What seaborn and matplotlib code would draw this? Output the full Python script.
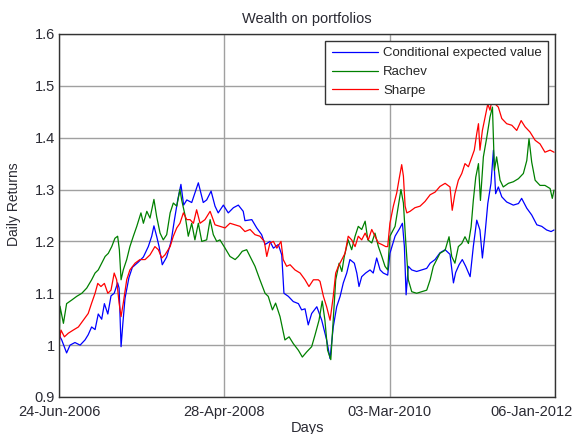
import pandas as pd
import matplotlib.pyplot as plt
import matplotlib.dates as mdates
import matplotlib.ticker as mticker
import matplotlib.transforms as mtransforms
import seaborn as sns

# --- data: days since 24-Jun-2006 and wealth values ---
start = pd.Timestamp("2006-06-24")

cev_days = [0, 11, 31, 45, 65, 86, 106, 119, 133, 147, 160, 174, 185, 199, 212, 225, 239, 245,
            253, 260, 269, 285, 299, 323, 344, 364, 378, 387, 398, 408, 421, 439, 457, 470, 484,
            497, 508, 521, 541, 568, 588, 602, 620, 636, 649, 670, 690, 711, 731, 751, 758, 786,
            806, 826, 840, 860, 874, 894, 908, 917, 935, 955, 976, 989, 1003, 1016, 1030, 1051,
            1071, 1091, 1105, 1118, 1132, 1146, 1159, 1173, 1186, 1204, 1214, 1223, 1234, 1250,
            1268, 1281, 1295, 1309, 1322, 1340, 1349, 1370, 1390, 1400, 1408, 1415, 1424, 1438,
            1458, 1479, 1499, 1513, 1533, 1553, 1574, 1594, 1608, 1617, 1631, 1644, 1658, 1676,
            1689, 1703, 1716, 1726, 1737, 1748, 1761, 1771, 1780, 1791, 1805, 1825, 1852, 1873,
            1886, 1907, 1927, 1948, 1968, 1988, 2006, 2018]
cev_vals = [1.02, 1.01, 0.985, 1.0, 1.005, 1.0, 1.01, 1.02, 1.035, 1.03, 1.06, 1.05, 1.08, 1.06,
            1.095, 1.10, 1.12, 1.11, 0.997, 1.04, 1.09, 1.13, 1.15, 1.16, 1.17, 1.19, 1.21, 1.23,
            1.21, 1.19, 1.155, 1.17, 1.20, 1.24, 1.28, 1.31, 1.27, 1.28, 1.275, 1.313, 1.275,
            1.28, 1.297, 1.268, 1.255, 1.27, 1.255, 1.265, 1.27, 1.258, 1.24, 1.242, 1.226,
            1.213, 1.194, 1.20, 1.187, 1.194, 1.174, 1.10, 1.094, 1.084, 1.08, 1.068, 1.07,
            1.039, 1.061, 1.074, 1.048, 1.01, 0.974, 1.035, 1.074, 1.094, 1.12, 1.139, 1.165,
            1.158, 1.139, 1.113, 1.132, 1.139, 1.145, 1.139, 1.168, 1.145, 1.139, 1.135, 1.177,
            1.21, 1.226, 1.235, 1.19, 1.097, 1.152, 1.145, 1.142, 1.145, 1.148, 1.158, 1.165,
            1.178, 1.184, 1.175, 1.12, 1.14, 1.155, 1.165, 1.152, 1.132, 1.19, 1.241, 1.222,
            1.168, 1.216, 1.273, 1.312, 1.376, 1.292, 1.305, 1.286, 1.276, 1.27, 1.273, 1.283,
            1.264, 1.251, 1.232, 1.229, 1.222, 1.219, 1.222]

rachev_days = [0, 4, 18, 31, 52, 72, 93, 113, 133, 147, 160, 174, 188, 201, 215, 228, 239, 246,
               253, 262, 276, 289, 303, 317, 334, 344, 358, 371, 387, 398, 412, 425, 439, 453,
               466, 480, 493, 500, 514, 527, 541, 554, 568, 582, 602, 616, 629, 643, 656, 677,
               697, 718, 731, 747, 765, 779, 799, 819, 840, 853, 870, 883, 901, 921, 938, 955,
               976, 992, 1010, 1030, 1044, 1060, 1073, 1084, 1095, 1108, 1118, 1128, 1142, 1153,
               1163, 1179, 1193, 1207, 1220, 1234, 1248, 1259, 1275, 1288, 1302, 1316, 1329,
               1340, 1349, 1370, 1383, 1394, 1404, 1413, 1424, 1438, 1458, 1479, 1499, 1513,
               1526, 1540, 1553, 1574, 1590, 1601, 1614, 1628, 1642, 1655, 1669, 1680, 1689,
               1699, 1710, 1718, 1730, 1744, 1757, 1767, 1775, 1784, 1798, 1811, 1832, 1852,
               1873, 1893, 1907, 1916, 1927, 1941, 1961, 1981, 2002, 2011, 2018]
rachev_vals = [0.99, 1.075, 1.042, 1.08, 1.087, 1.094, 1.10, 1.11, 1.126, 1.139, 1.145, 1.158,
               1.171, 1.177, 1.19, 1.206, 1.21, 1.184, 1.126, 1.145, 1.165, 1.19, 1.21, 1.229,
               1.255, 1.235, 1.258, 1.245, 1.281, 1.248, 1.216, 1.203, 1.213, 1.255, 1.274,
               1.268, 1.30, 1.28, 1.25, 1.21, 1.235, 1.203, 1.235, 1.20, 1.203, 1.242, 1.213,
               1.20, 1.203, 1.187, 1.171, 1.165, 1.171, 1.181, 1.184, 1.171, 1.152, 1.126, 1.10,
               1.094, 1.068, 1.081, 1.055, 1.01, 1.016, 1.003, 0.99, 0.977, 0.987, 0.997, 1.02,
               1.048, 1.085, 1.048, 0.99, 0.972, 1.048, 1.126, 1.158, 1.142, 1.171, 1.203, 1.184,
               1.21, 1.229, 1.223, 1.239, 1.203, 1.197, 1.216, 1.19, 1.171, 1.152, 1.145, 1.21,
               1.229, 1.268, 1.30, 1.274, 1.203, 1.126, 1.103, 1.10, 1.103, 1.106, 1.126, 1.152,
               1.165, 1.177, 1.183, 1.209, 1.171, 1.158, 1.19, 1.196, 1.209, 1.196, 1.228, 1.279,
               1.324, 1.35, 1.279, 1.363, 1.401, 1.44, 1.459, 1.337, 1.363, 1.318, 1.305, 1.312,
               1.315, 1.321, 1.331, 1.356, 1.398, 1.353, 1.318, 1.308, 1.308, 1.302, 1.283, 1.299]

sharpe_days = [0, 8, 22, 38, 58, 79, 99, 119, 133, 147, 158, 171, 185, 199, 212, 225, 235, 245,
               253, 262, 276, 289, 310, 330, 351, 371, 391, 405, 419, 432, 453, 466, 480, 493,
               507, 521, 534, 548, 561, 575, 595, 616, 636, 656, 677, 697, 718, 738, 758, 779,
               799, 819, 837, 847, 860, 874, 888, 905, 914, 928, 942, 962, 983, 1003, 1019, 1037,
               1057, 1064, 1078, 1091, 1105, 1118, 1128, 1139, 1153, 1166, 1179, 1193, 1207,
               1220, 1234, 1248, 1261, 1275, 1288, 1302, 1316, 1332, 1340, 1349, 1363, 1377,
               1386, 1397, 1404, 1411, 1418, 1431, 1451, 1472, 1492, 1513, 1533, 1553, 1574,
               1594, 1603, 1614, 1628, 1642, 1655, 1669, 1683, 1693, 1703, 1710, 1716, 1726,
               1737, 1748, 1757, 1767, 1778, 1791, 1805, 1825, 1846, 1866, 1884, 1900, 1920,
               1941, 1961, 1981, 2002, 2018]
sharpe_vals = [1.003, 1.029, 1.016, 1.023, 1.029, 1.035, 1.048, 1.061, 1.081, 1.10, 1.119, 1.113,
               1.119, 1.10, 1.106, 1.139, 1.126, 1.081, 1.055, 1.081, 1.126, 1.145, 1.158, 1.165,
               1.165, 1.174, 1.19, 1.184, 1.168, 1.174, 1.19, 1.21, 1.226, 1.235, 1.255, 1.242,
               1.242, 1.235, 1.261, 1.235, 1.242, 1.258, 1.232, 1.229, 1.226, 1.235, 1.232,
               1.229, 1.219, 1.223, 1.213, 1.21, 1.20, 1.171, 1.197, 1.20, 1.187, 1.20, 1.165,
               1.152, 1.155, 1.145, 1.139, 1.126, 1.113, 1.126, 1.126, 1.123, 1.094, 1.074,
               1.048, 1.094, 1.139, 1.152, 1.165, 1.177, 1.21, 1.203, 1.19, 1.21, 1.203, 1.216,
               1.203, 1.223, 1.21, 1.197, 1.194, 1.19, 1.19, 1.235, 1.268, 1.294, 1.319, 1.348,
               1.326, 1.268, 1.255, 1.258, 1.265, 1.268, 1.277, 1.29, 1.295, 1.306, 1.312, 1.305,
               1.26, 1.292, 1.318, 1.331, 1.35, 1.344, 1.363, 1.376, 1.408, 1.427, 1.376, 1.414,
               1.44, 1.465, 1.453, 1.478, 1.465, 1.459, 1.437, 1.427, 1.424, 1.414, 1.433, 1.421,
               1.411, 1.395, 1.388, 1.372, 1.376, 1.372]

series_names = ["Conditional expected value", "Rachev", "Sharpe"]
series_colors = ["#0000ff", "#008000", "#ff0000"]
tick_dates = ["2006-06-24", "2008-04-28", "2010-03-03", "2012-01-06"]

# build one long table for seaborn
frames = []
for name, d, v in zip(series_names,
                      [cev_days, rachev_days, sharpe_days],
                      [cev_vals, rachev_vals, sharpe_vals]):
    frames.append(pd.DataFrame({
        "date": start + pd.to_timedelta(d, unit="D"),
        "wealth": v,
        "portfolio": name,
    }))
df = pd.concat(frames, ignore_index=True)

sns.set_style("white")
plt.rcParams["font.family"] = ["Liberation Sans", "DejaVu Sans"]
txt_color = "#2a2a33"
fs = 10.5

fig = plt.figure(figsize=(5.74, 4.34), dpi=100)
ax = fig.add_axes([0.1028, 0.0853, 0.8641, 0.8364])

sns.lineplot(data=df, x="date", y="wealth", hue="portfolio", hue_order=series_names,
             palette=series_colors, linewidth=0.9, estimator=None, sort=False, ax=ax)

# axes, ticks and grid in the matlab look
ticks = pd.to_datetime(tick_dates)
ax.set_xlim(ticks[0], ticks[-1])
ax.set_xticks(ticks)
ax.xaxis.set_major_formatter(mdates.DateFormatter("%d-%b-%Y"))
ax.set_ylim(0.9, 1.6)
ax.set_yticks([0.9, 1.0, 1.1, 1.2, 1.3, 1.4, 1.5, 1.6])
ax.yaxis.set_major_formatter(mticker.FormatStrFormatter("%g"))
ax.grid(True, color="#a0a0a0", linewidth=1.0)
ax.tick_params(direction="in", length=4, labelsize=fs, colors=txt_color, pad=3)
ax.tick_params(axis="x", pad=6)
for s in ax.spines.values():
    s.set_color("#333333")
    s.set_linewidth(1.0)

# last date label is kept inside the figure, as matlab does
fig.canvas.draw()
last = ax.get_xticklabels()[-1]
last.set_horizontalalignment("right")
last.set_transform(last.get_transform() + mtransforms.ScaledTranslation(18 / 100, 0, fig.dpi_scale_trans))

ax.set_title("Wealth on portfolios", fontsize=fs, color=txt_color, pad=8)
ax.set_xlabel("Days", fontsize=fs, color=txt_color, labelpad=1)
ax.set_ylabel("Daily Returns", fontsize=10, color=txt_color)
ax.yaxis.set_label_coords(-0.077, 0.532)

leg = ax.legend(loc="upper right", fontsize=9.5, handlelength=3.5, handletextpad=0.4,
                frameon=True, fancybox=False, framealpha=1, edgecolor="#333333",
                labelspacing=0.5, borderpad=0.5)
leg.get_frame().set_linewidth(1.0)

fig.savefig("out.png", dpi=100)
